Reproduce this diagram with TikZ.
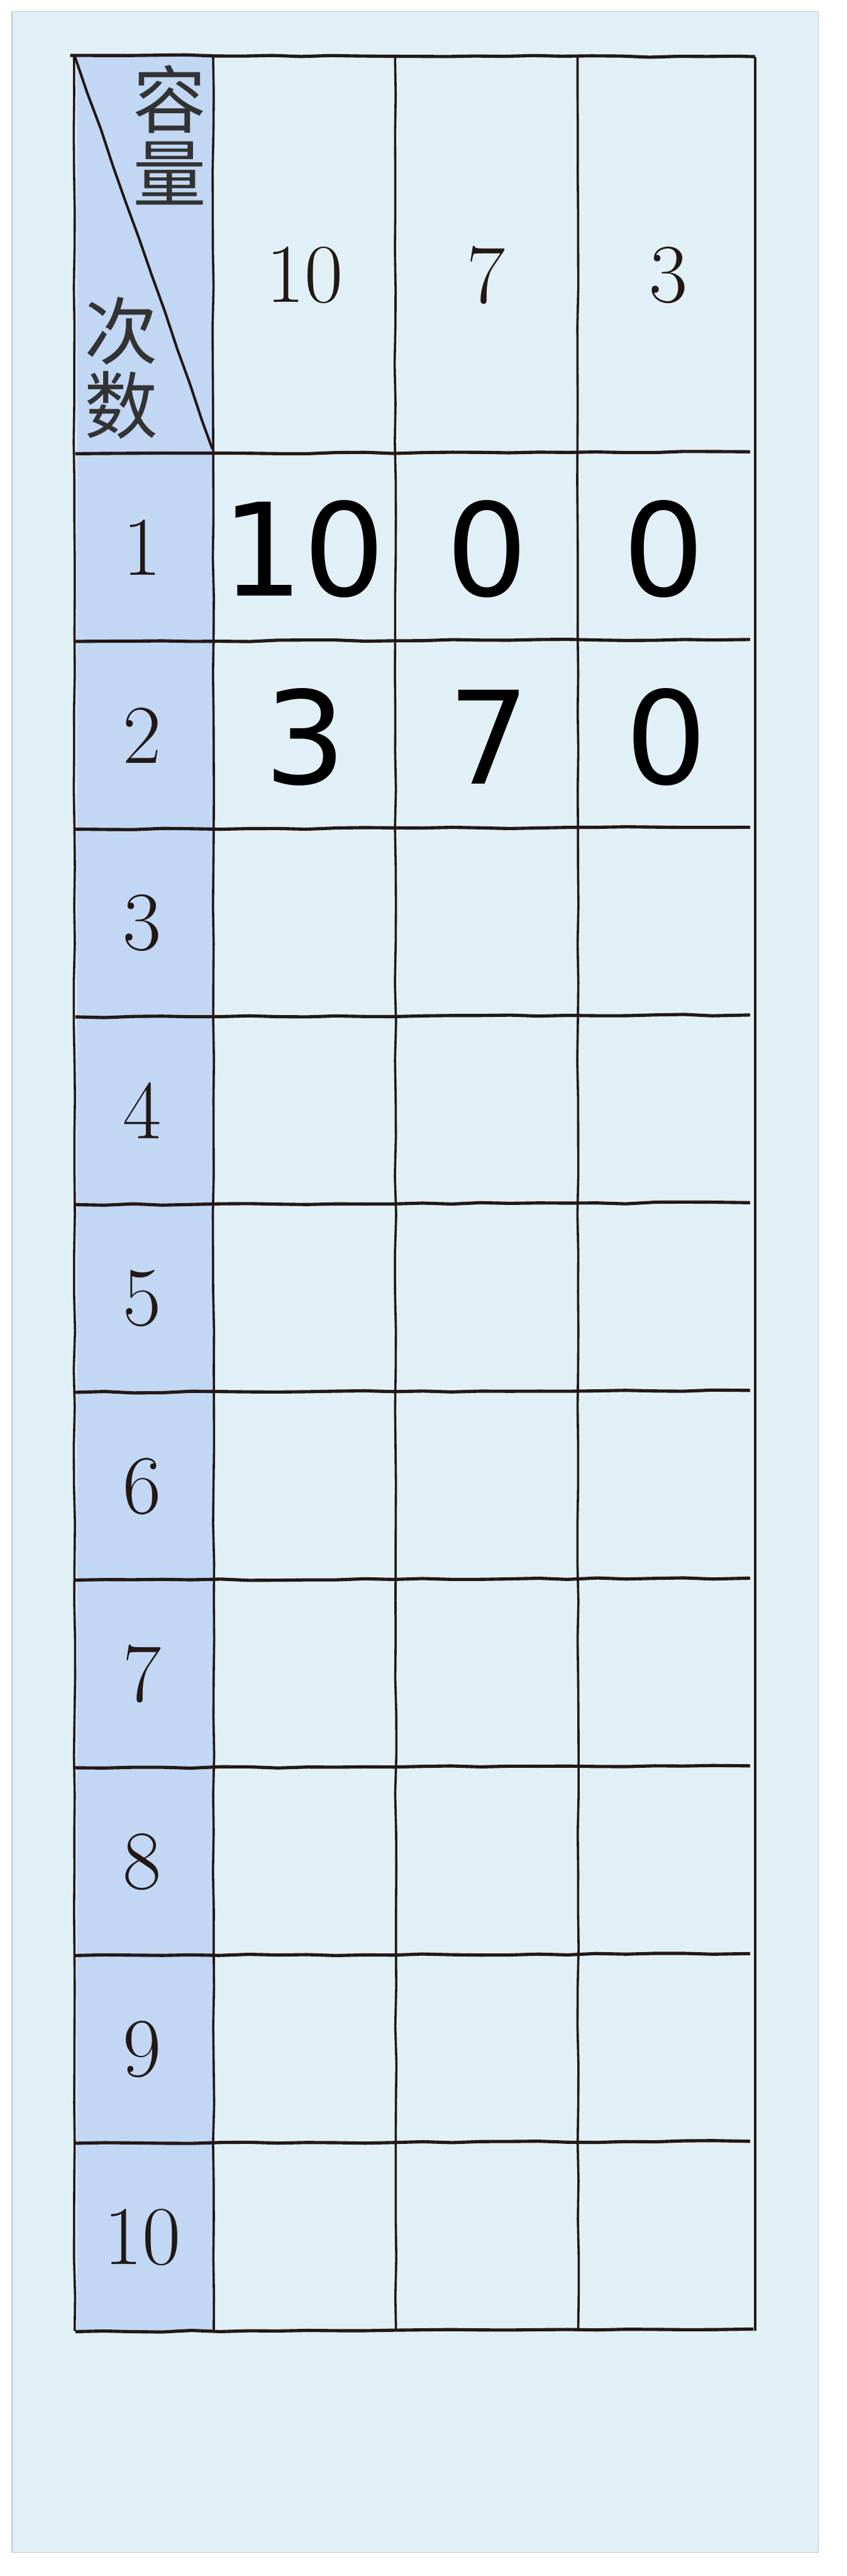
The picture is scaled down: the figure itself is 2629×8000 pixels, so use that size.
\documentclass[tikz,border=0pt]{standalone}
\usepackage{fontspec}
\newfontfamily\cjk{Noto Sans CJK SC}
\newfontfamily\datafont{DejaVu Sans}
\usetikzlibrary{decorations.pathmorphing}
\definecolor{bg}{HTML}{E1F0F6}
\definecolor{bgedge}{HTML}{B9CAD3}
\definecolor{colblue}{HTML}{C1D7F4}
\definecolor{ink}{HTML}{231815}
\definecolor{cjkgray}{HTML}{333333}
\begin{document}
\begin{tikzpicture}[x=0.1pt,y=-0.1pt,
  hline/.style={draw=ink, line width=1pt, decorate, decoration={random steps, segment length=9pt, amplitude=0.25pt}},
  vline/.style={draw=ink, line width=0.7pt, decorate, decoration={random steps, segment length=12pt, amplitude=0.2pt}},
  border/.style={draw=ink, line width=0.8pt},
  headnum/.style={text=ink, inner sep=0pt, font=\fontsize{26}{26}\selectfont\addfontfeature{FakeBold=1.2}},
  rowlab/.style={text=ink, inner sep=0pt, font=\fontsize{26}{26}\selectfont\addfontfeature{FakeBold=1.2}},
  datanum/.style={text=black, inner sep=0pt, font=\datafont\fontsize{40}{40}\selectfont},
  cjklab/.style={text=cjkgray, inner sep=0pt, align=center, font=\cjk\fontsize{22.8}{22.9}\selectfont}]
\pgfmathsetseed{7}
\useasboundingbox (0,0) rectangle (2629,8000);
\fill[white] (0,0) rectangle (2629,8000);
\filldraw[fill=bg, draw=bgedge, line width=0.25pt] (37,36) rectangle (2542,7926);
% blue header column
\fill[colblue] (238,176) rectangle (662,7239);
% vertical lines
\draw[vline] (230,172) -- (232,7239);
\draw[vline] (662,172) -- (664,7239);
\draw[vline] (1227,172) -- (1230,7239);
\draw[vline] (1794,172) -- (1796,7239);
\draw[border] (2346,178) -- (2346,7239);
% horizontal lines
\draw[hline] (218,172) -- (2346,176);
\foreach \k in {1,...,10} {
  \draw[hline] (234,{1409+583*(\k-1)}) -- (2330,{1403+583*(\k-1)});
}
\draw[hline] (234,7241) -- (2340,7233);
% diagonal
\draw[vline, line width=0.8pt] (232,174) -- (660,1395);
% header texts
\node[cjklab] (cap) at (528,419) {容\\量};
\node[cjklab] (cnt) at (377,1143) {次\\数};
\node[headnum] (h10) at (947,854) {10};
\node[headnum] (h7) at (1509,854) {7};
\node[headnum] (h3) at (2077,854) {3};
% row labels
\foreach \k in {1,...,10} {
  \node[rowlab] (r\k) at (442,{1409+583*(\k-0.5)}) {\k};
}
% data
\node[datanum] (d11) at (942,1705) {10};
\node[datanum] (d12) at (1513,1705) {0};
\node[datanum] (d13) at (2062,1705) {0};
\node[datanum] (d21) at (949,2289) {3};
\node[datanum] (d22) at (1519,2289) {7};
\node[datanum] (d23) at (2069,2289) {0};
\end{tikzpicture}
\end{document}
